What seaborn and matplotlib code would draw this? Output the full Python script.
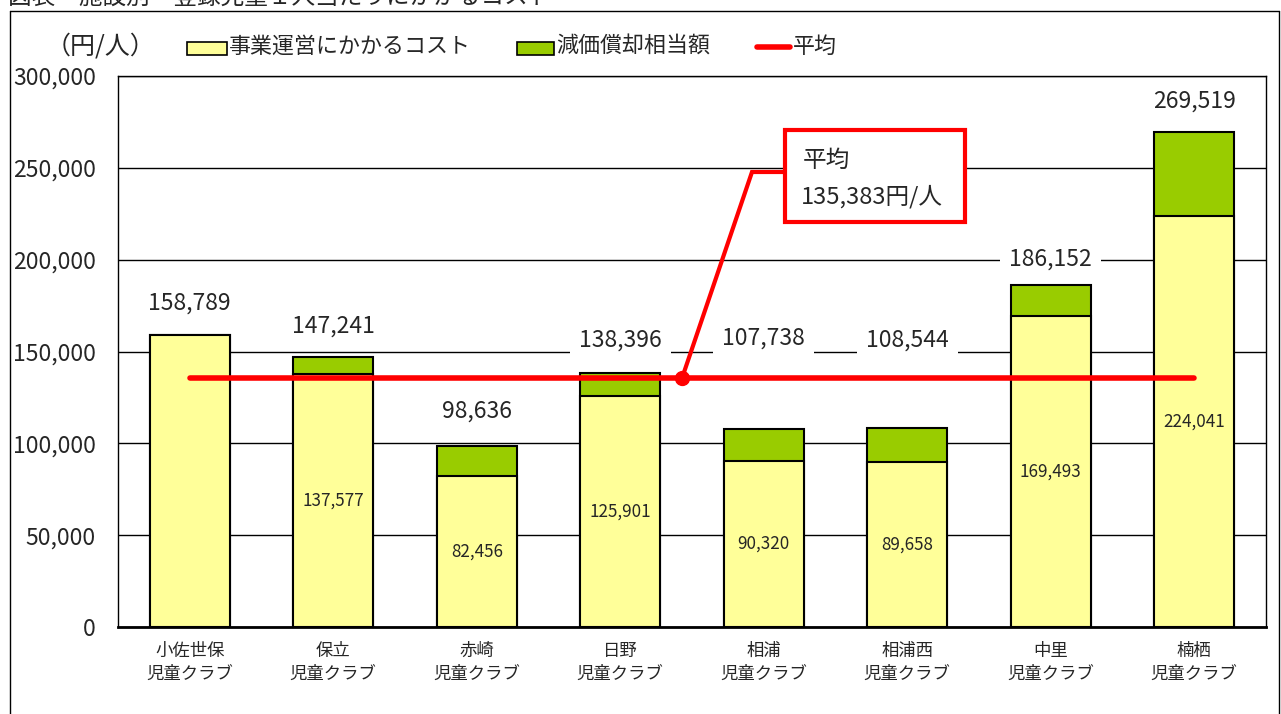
import numpy as np
import pandas as pd
import matplotlib
matplotlib.use("Agg")
import matplotlib.pyplot as plt
import seaborn as sns
from matplotlib.patches import Rectangle
from matplotlib.lines import Line2D

# DATA
clubs = ["小佐世保\n児童クラブ", "保立\n児童クラブ", "赤崎\n児童クラブ", "日野\n児童クラブ",
         "相浦\n児童クラブ", "相浦西\n児童クラブ", "中里\n児童クラブ", "楠栖\n児童クラブ"]
operating = [158789, 137577, 82456, 125901, 90320, 89658, 169493, 224041]
depreciation = [0, 9664, 16180, 12495, 17418, 18886, 16659, 45478]
totals = [158789, 147241, 98636, 138396, 107738, 108544, 186152, 269519]
average = 135383
series_names = ["事業運営にかかるコスト", "減価償却相当額", "平均"]
y_ticks = [0, 50000, 100000, 150000, 200000, 250000, 300000]

# positions of the total labels (data units), hand placed like the original
label_y = [176400, 163900, 117600, 156300, 157350, 156300, 200360, 286400]

YELLOW = "#FFFF99"
GREEN = "#99CC00"
RED = "#FF0000"

sns.set_theme(style="white")
plt.rcParams['font.family'] = ['Noto Sans CJK JP', 'DejaVu Sans']

W, H = 1281, 714
fig = plt.figure(figsize=(W / 100, H / 100), dpi=100)
ax = fig.add_axes([118 / W, 87 / H, 1148 / W, 551 / H])

df = pd.DataFrame({"club": clubs, "operating": operating, "total": totals})

# stacked look: full bar in green, operating part over it in yellow
sns.barplot(data=df, x="club", y="total", color=GREEN, edgecolor="black",
            linewidth=1.5, width=0.56, saturation=1, ax=ax, zorder=2)
sns.barplot(data=df, x="club", y="operating", color=YELLOW, edgecolor="black",
            linewidth=1.5, width=0.56, saturation=1, ax=ax, zorder=3)

ax.set_xlim(-0.5, len(clubs) - 0.5)
ax.set_ylim(0, 300000)
ax.set_yticks(y_ticks)
ax.set_yticklabels([f"{v:,}" for v in y_ticks], fontsize=16.5)
ax.tick_params(axis="y", length=0, pad=16)
ax.tick_params(axis="x", length=0, pad=11, labelsize=12.5)
for lbl in ax.get_xticklabels():
    lbl.set_linespacing(1.35)
ax.set_xlabel("")
ax.set_ylabel("")
ax.grid(axis="y", color="black", linewidth=1, zorder=0)
ax.set_axisbelow(True)
for s in ["left", "right", "top"]:
    ax.spines[s].set_color("black")
    ax.spines[s].set_linewidth(1)
ax.spines["bottom"].set_color("black")
ax.spines["bottom"].set_linewidth(2)

# average line
xs = np.arange(len(clubs))
ax.plot(xs, [average] * len(clubs), color=RED, linewidth=4, solid_capstyle="round", zorder=5)

# total labels
for i, (t, ly) in enumerate(zip(totals, label_y)):
    ax.text(i, ly, f"{t:,}", ha="center", va="center", fontsize=16.5, zorder=4,
            bbox=dict(boxstyle="square,pad=0.4", facecolor="white", edgecolor="none"))

# inner labels for the operating part
for i, (op, dep) in enumerate(zip(operating, depreciation)):
    if dep > 0:
        ax.text(i, op / 2, f"{op:,}", ha="center", va="center", fontsize=12.3, zorder=4)


# callout for the average
def px2data(px, py):
    return (px - 118) / 143.5 - 0.5, (627 - py) / 551 * 300000


dot_x = 3.43
ex, ey = px2data(752, 172)
bx, by = px2data(785, 172)
ax.plot([dot_x, ex, bx], [average, ey, ey], color=RED, linewidth=3, zorder=6,
        solid_joinstyle="miter")
ax.plot([dot_x], [average], "o", color=RED, markersize=10, zorder=7)
x0, y0 = px2data(785, 222)
x1, y1 = px2data(965, 130)
ax.add_patch(Rectangle((x0, y0), x1 - x0, y1 - y0, facecolor="white", edgecolor=RED,
                       linewidth=3, zorder=8, clip_on=False))
tx, ty = px2data(803, 160)
ax.text(tx, ty, "平均", ha="left", va="center", fontsize=17, zorder=9)
tx, ty = px2data(801, 197)
ax.text(tx, ty, f"{average:,}円/人", ha="left", va="center", fontsize=17, zorder=9)

# outer frame
fig.add_artist(Line2D([10 / W, 10 / W], [0, 1 - 11 / H], color="black", linewidth=1))
fig.add_artist(Line2D([1279 / W, 1279 / W], [0, 1 - 11 / H], color="black", linewidth=1))
fig.add_artist(Line2D([10 / W, 1279 / W], [1 - 11 / H, 1 - 11 / H], color="black", linewidth=1))

# title, cut at the top edge of the picture like the original
fig.text(8 / W, 1 - 4 / H, "図表　施設別　登録児童１人当たりにかかるコスト", ha="left",
         va="baseline", fontsize=17)

# unit and legend
fig.text(46 / W, 1 - 46 / H, "（円/人）", ha="left", va="center", fontsize=18)
fig.add_artist(Rectangle((187 / W, 1 - 55 / H), 40 / W, 13 / H, facecolor=YELLOW,
                         edgecolor="black", linewidth=1.2, transform=fig.transFigure))
fig.text(229 / W, 1 - 47 / H, series_names[0], ha="left", va="center", fontsize=15.8)
fig.add_artist(Rectangle((517 / W, 1 - 55 / H), 37 / W, 13 / H, facecolor=GREEN,
                         edgecolor="black", linewidth=1.2, transform=fig.transFigure))
fig.text(556 / W, 1 - 47 / H, series_names[1], ha="left", va="center", fontsize=15.8)
fig.add_artist(Line2D([757 / W, 790 / W], [1 - 47 / H, 1 - 47 / H], color=RED,
                      linewidth=4, solid_capstyle="round"))
fig.text(793 / W, 1 - 47 / H, series_names[2], ha="left", va="center", fontsize=15.8)

fig.savefig("out.png", dpi=100)
